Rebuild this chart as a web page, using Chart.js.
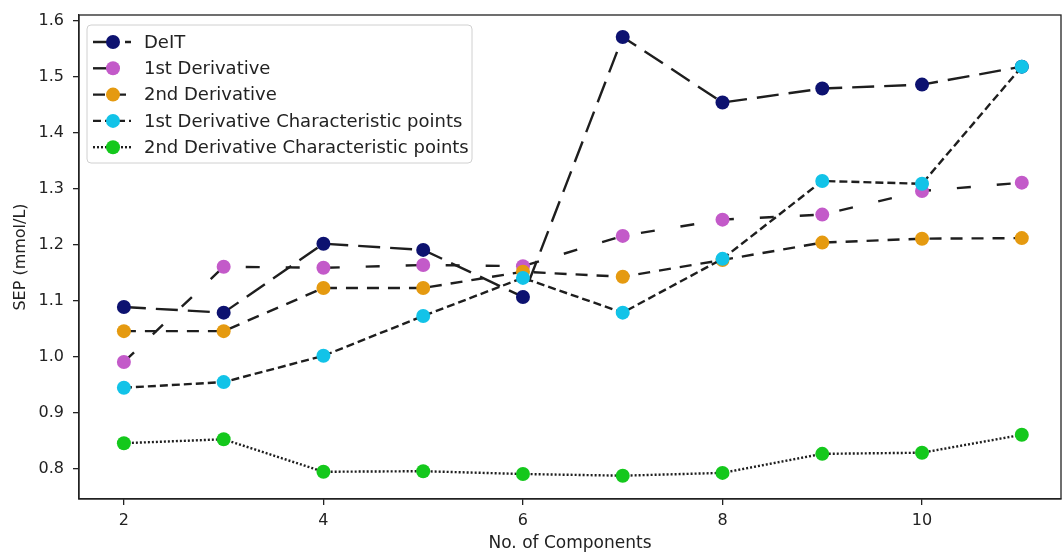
<!DOCTYPE html>
<html>
<head>
<meta charset="utf-8">
<script src="https://cdn.jsdelivr.net/npm/chart.js@4/dist/chart.umd.min.js"></script>
<style>
  html, body { margin: 0; padding: 0; background: #fff; }
  #c { display: block; }
</style>
</head>
<body>
<canvas id="c" width="1063" height="554"></canvas>
<script>
// ---- data ----
const components = [2, 3, 4, 5, 6, 7, 8, 9, 10, 11];
const deit      = [1.089, 1.079, 1.202, 1.191, 1.107, 1.571, 1.454, 1.479, 1.486, 1.518];
const deriv1    = [0.991, 1.161, 1.159, 1.164, 1.162, 1.216, 1.245, 1.254, 1.296, 1.311];
const deriv2    = [1.046, 1.046, 1.123, 1.123, 1.152, 1.143, 1.173, 1.204, 1.211, 1.212];
const deriv1Char= [0.945, 0.955, 1.002, 1.073, 1.141, 1.079, 1.175, 1.314, 1.309, 1.518];
const deriv2Char= [0.846, 0.853, 0.795, 0.796, 0.791, 0.788, 0.793, 0.827, 0.829, 0.861];
const seriesNames = ['DeIT', '1st Derivative', '2nd Derivative',
  '1st Derivative Characteristic points', '2nd Derivative Characteristic points'];
const xTickValues = [2, 4, 6, 8, 10];
const yTickValues = [0.8, 0.9, 1.0, 1.1, 1.2, 1.3, 1.4, 1.5, 1.6];

const FONT = "'DejaVu Sans', sans-serif";
const LINE = '#1e1e1e';

function pts(arr) { return components.map((x, i) => ({ x: x, y: arr[i] })); }

const styles = [
  { color: '#0d1270', dash: [22, 10] },
  { color: '#c35ac9', dash: [14, 26] },
  { color: '#e59a10', dash: [12, 9] },
  { color: '#12c3e8', dash: [8, 4] },
  { color: '#14c81c', dash: [2, 2] }
];
const allSeries = [deit, deriv1, deriv2, deriv1Char, deriv2Char];

const datasets = allSeries.map((arr, i) => ({
  label: seriesNames[i],
  data: pts(arr),
  borderColor: LINE,
  borderWidth: 2.4,
  borderDash: styles[i].dash,
  pointRadius: 7,
  pointHoverRadius: 7,
  pointBorderWidth: 0,
  pointBackgroundColor: styles[i].color,
  pointBorderColor: styles[i].color,
  fill: false,
  tension: 0,
  order: allSeries.length - i   // later series drawn on top (like matplotlib)
}));

const framePlugin = {
  id: 'frame',
  afterDatasetsDraw(chart) {
    const { ctx, chartArea: a } = chart;
    ctx.save();
    ctx.strokeStyle = '#222';
    ctx.lineWidth = 1.3;
    ctx.setLineDash([]);
    ctx.strokeRect(a.left, a.top, a.right - a.left, a.bottom - a.top);
    ctx.restore();
  }
};

const legendPlugin = {
  id: 'mplLegend',
  afterDraw(chart) {
    const { ctx, chartArea: a } = chart;
    const bx = a.left + 8, by = a.top + 10, bw = 385, bh = 138;
    ctx.save();
    ctx.setLineDash([]);
    ctx.beginPath();
    ctx.roundRect(bx, by, bw, bh, 4);
    ctx.fillStyle = 'rgba(255,255,255,0.85)';
    ctx.fill();
    ctx.strokeStyle = '#d0d0d0';
    ctx.lineWidth = 1;
    ctx.stroke();
    ctx.font = '18px ' + FONT;
    ctx.textBaseline = 'middle';
    chart.data.datasets.forEach((ds, i) => {
      const y = by + 17 + i * 26.3;
      ctx.beginPath();
      ctx.setLineDash(ds.borderDash);
      ctx.lineWidth = ds.borderWidth;
      ctx.strokeStyle = ds.borderColor;
      ctx.moveTo(bx + 6, y);
      ctx.lineTo(bx + 44, y);
      ctx.stroke();
      ctx.setLineDash([]);
      ctx.beginPath();
      ctx.arc(bx + 26, y, 7, 0, Math.PI * 2);
      ctx.fillStyle = ds.pointBackgroundColor;
      ctx.fill();
      ctx.fillStyle = '#222';
      ctx.fillText(ds.label, bx + 57, y + 1);
    });
    ctx.restore();
  }
};

new Chart(document.getElementById('c'), {
  type: 'line',
  data: { datasets: datasets },
  plugins: [framePlugin, legendPlugin],
  options: {
    responsive: false,
    devicePixelRatio: 1,
    animation: false,
    layout: { autoPadding: false, padding: { top: 15, right: 2, bottom: 0, left: 0 } },
    plugins: { legend: { display: false }, tooltip: { enabled: false } },
    scales: {
      x: {
        type: 'linear',
        min: 1.55,
        max: 11.393,
        afterBuildTicks(scale) { scale.ticks = xTickValues.map(v => ({ value: v })); },
        afterFit(scale) { scale.height = 55; scale.paddingLeft = 0; scale.paddingRight = 0; },
        ticks: {
          font: { family: FONT, size: 16 },
          color: '#222',
          padding: 6,
          maxRotation: 0,
          callback: v => String(v)
        },
        grid: { drawOnChartArea: false, drawTicks: true, tickLength: 6, color: '#222', lineWidth: 1.3 },
        border: { display: true, color: '#222', width: 1.3 },
        title: {
          display: true,
          text: 'No. of Components',
          font: { family: FONT, size: 17 },
          color: '#222',
          padding: { top: 0, bottom: 0 }
        }
      },
      y: {
        type: 'linear',
        min: 0.7464,
        max: 1.6102,
        afterBuildTicks(scale) { scale.ticks = yTickValues.map(v => ({ value: v })); },
        afterFit(scale) { scale.width = 79; scale.paddingTop = 0; scale.paddingBottom = 0; },
        ticks: {
          font: { family: FONT, size: 16 },
          color: '#222',
          padding: 9,
          callback: v => Number(v).toFixed(1)
        },
        grid: { drawOnChartArea: false, drawTicks: true, tickLength: 6, color: '#222', lineWidth: 1.3 },
        border: { display: true, color: '#222', width: 1.3 },
        title: {
          display: true,
          text: 'SEP (mmol/L)',
          font: { family: FONT, size: 16 },
          color: '#222',
          padding: { top: 11, bottom: 0 }
        }
      }
    }
  }
});
</script>
</body>
</html>
